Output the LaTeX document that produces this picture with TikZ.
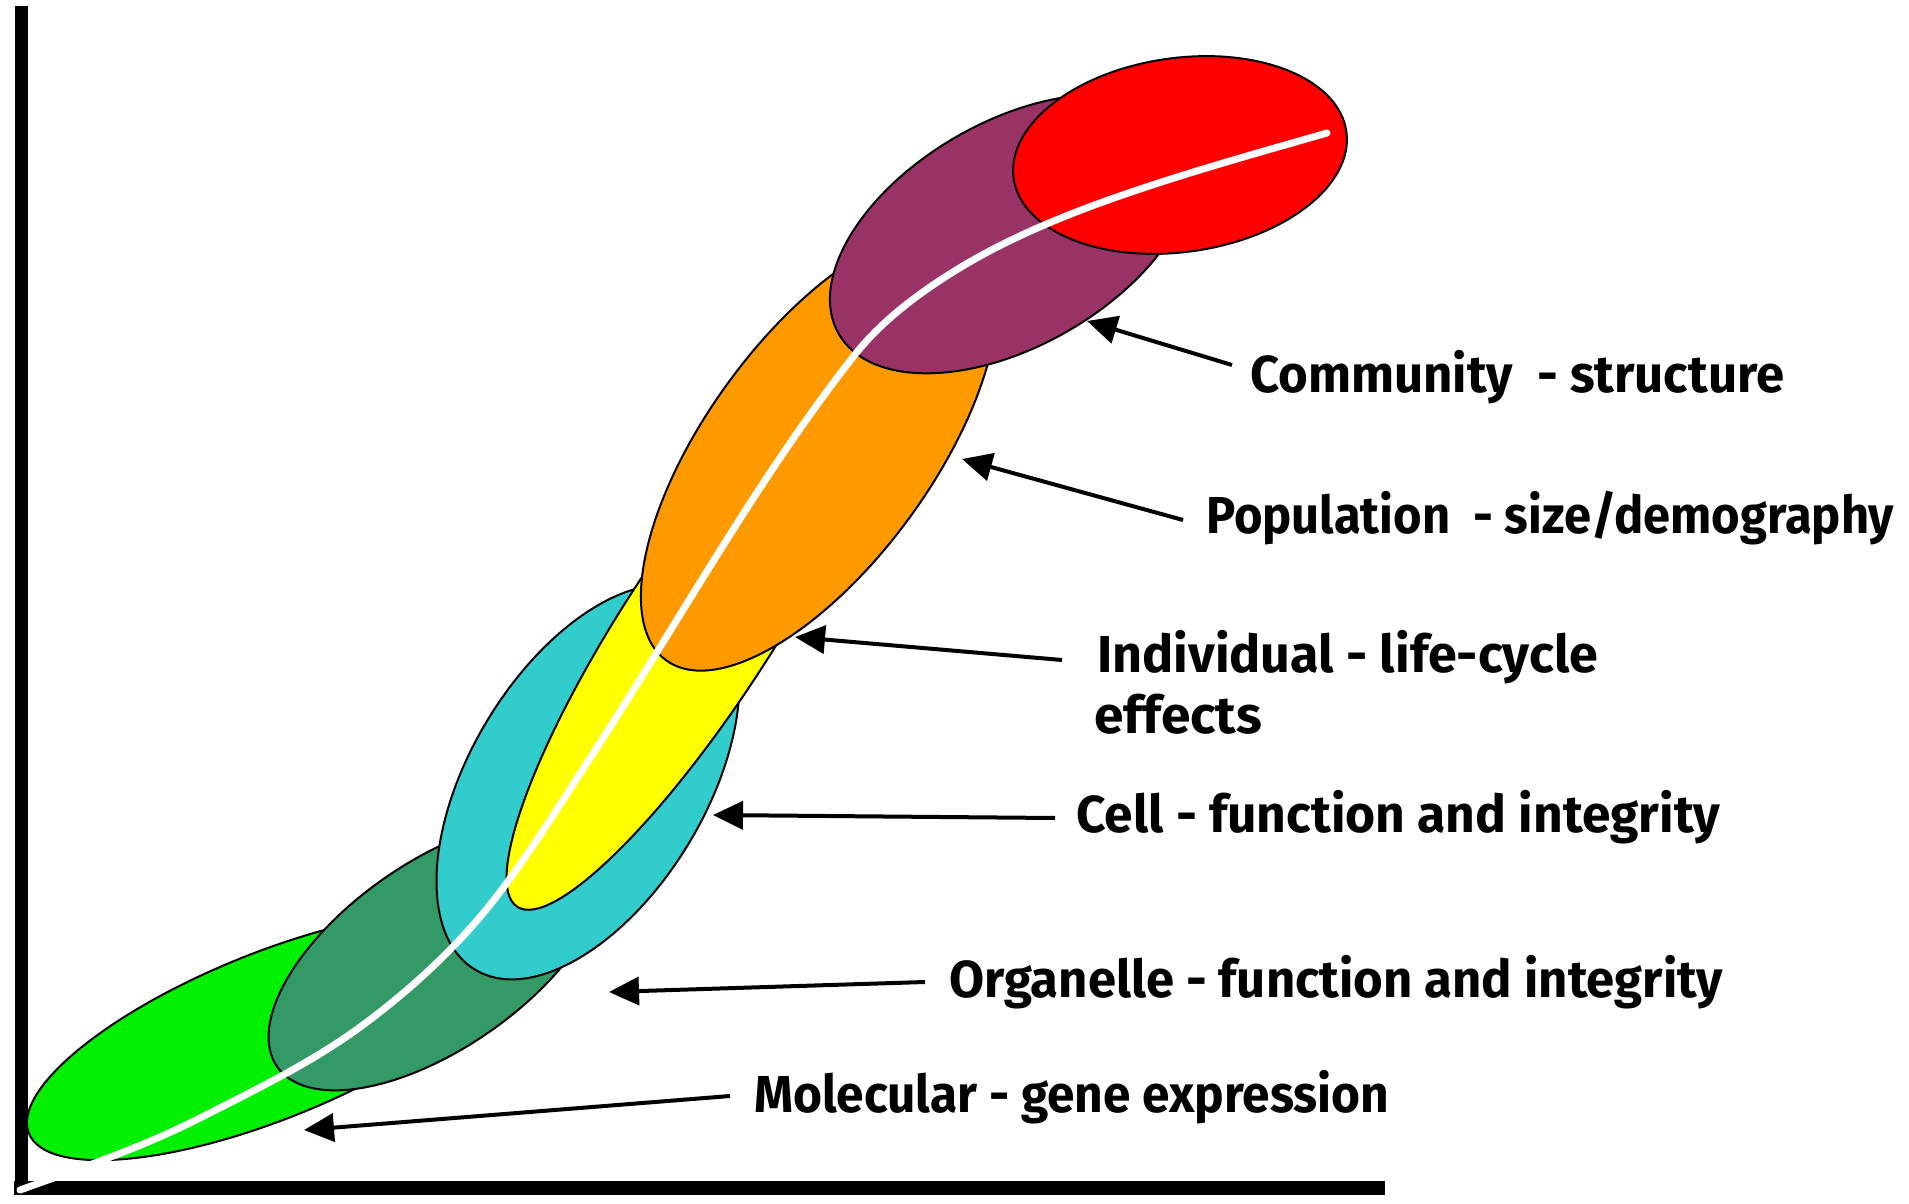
\documentclass[tikz,border=0pt]{standalone}
\usepackage{fontspec}
\setmainfont{Fira Sans}
\usetikzlibrary{arrows.meta}
\definecolor{cgreen}{RGB}{0,240,0}
\definecolor{cdkgreen}{RGB}{51,153,102}
\definecolor{ccyan}{RGB}{51,204,204}
\definecolor{cyellow}{RGB}{255,255,0}
\definecolor{corange}{RGB}{255,153,0}
\definecolor{cpurple}{RGB}{153,51,102}
\definecolor{cred}{RGB}{255,0,0}
\begin{document}
\begin{tikzpicture}[x=1pt,y=-1pt,
  blob/.style={draw=black,line width=2pt},
  lab/.style={anchor=base west,inner sep=0pt,font=\fontsize{52}{60}\selectfont\bfseries},
  pointer/.style={line width=4pt,-{Triangle[length=30pt,width=28pt]}},
  axis/.style={line width=14pt}]
\fill[white] (0,0) rectangle (1909,1204);
\useasboundingbox (0,0) rectangle (1909,1204);

% axes
\coordinate (ytop) at (21,6);
\coordinate (orig) at (21,1195);
\coordinate (xo) at (14,1188);
\coordinate (xend) at (1385,1188);
\draw[line width=13pt] (ytop) -- (orig);
\draw[axis] (xo) -- (xend);

% ellipses (bottom to top)
\draw[blob,fill=cgreen,rotate around={22:(270,1036)}] (270,1036) ellipse [x radius=260pt, y radius=83pt];
\draw[blob,fill=cdkgreen,rotate around={35:(437,955)}] (437,955) ellipse [x radius=195pt, y radius=93pt];
\draw[blob,fill=ccyan,rotate around={59:(588,782)}] (588,782) ellipse [x radius=219pt, y radius=118pt];
\draw[blob,fill=cyellow,rotate around={57:(697,630)}] (697,630) ellipse [x radius=330pt, y radius=75pt];
\draw[blob,fill=corange,rotate around={54:(819,450)}] (819,450) ellipse [x radius=260pt, y radius=113pt];
\draw[blob,fill=cpurple,rotate around={30:(1012,234)}] (1012,234) ellipse [x radius=200pt, y radius=112pt];
\draw[blob,fill=cred,rotate around={8:(1180,155)}] (1180,155) ellipse [x radius=168pt, y radius=97pt];

% white trend curve
\draw[white,line width=7pt,line cap=round]
  (20,1190) .. controls (81,1168) and (142,1147.5) .. (200,1118)
  .. controls (257,1089) and (316,1060.5) .. (367,1022)
  .. controls (416.5,984.7) and (462.7,941.5) .. (500,892)
  .. controls (533.7,847.3) and (563.5,799) .. (594,752)
  .. controls (679.6,620.3) and (756.3,480.7) .. (853,357)
  .. controls (880.1,322.3) and (915.7,295.3) .. (953,272)
  .. controls (998.8,243.4) and (1049.3,221.5) .. (1100,203)
  .. controls (1174.3,176) and (1251.1,154.8) .. (1327,133);

% labels
\node[lab] (comm) at (1250,392) {\resizebox{534pt}{\height}{Community\ \ - structure}};
\node[lab] (popu) at (1206,533) {\resizebox{688pt}{\height}{Population\ \ - size/demography}};
\node[lab] (indi) at (1097,672) {\resizebox{501pt}{\height}{Individual - life-cycle}};
\node[lab] (indi2) at (1094,733) {\resizebox{168pt}{\height}{effects}};
\node[lab] (cell) at (1076,832) {\resizebox{644pt}{\height}{Cell - function and integrity}};
\node[lab] (orga) at (949,997) {\resizebox{774pt}{\height}{Organelle - function and integrity}};
\node[lab] (mole) at (754,1112) {\resizebox{635pt}{\height}{Molecular - gene expression}};

% arrows
\coordinate (sComm) at (1232,365); \coordinate (tComm) at (1087,321);
\coordinate (sPopu) at (1183,520); \coordinate (tPopu) at (962,459);
\coordinate (sIndi) at (1062,660); \coordinate (tIndi) at (795,637);
\coordinate (sCell) at (1055,818); \coordinate (tCell) at (713,815);
\coordinate (sOrga) at (925,982);  \coordinate (tOrga) at (609,992);
\coordinate (sMole) at (730,1096); \coordinate (tMole) at (304,1130);
\draw[pointer] (sComm) -- (tComm);
\draw[pointer] (sPopu) -- (tPopu);
\draw[pointer] (sIndi) -- (tIndi);
\draw[pointer] (sCell) -- (tCell);
\draw[pointer] (sOrga) -- (tOrga);
\draw[pointer] (sMole) -- (tMole);
\end{tikzpicture}
\end{document}
